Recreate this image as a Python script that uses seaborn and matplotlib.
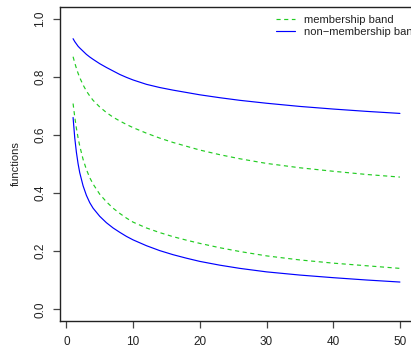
import matplotlib
matplotlib.use("Agg")
import matplotlib.pyplot as plt
import seaborn as sns
import pandas as pd

# data
x = [1, 1.25, 1.5, 1.75, 2, 2.5, 3, 3.5, 4, 5, 6, 7, 8, 9, 10, 12, 14, 16, 18,
     20, 23, 26, 30, 35, 40, 45, 50]
mem_upper = [0.869, 0.848, 0.829, 0.812, 0.797, 0.772, 0.751, 0.734, 0.719, 0.696,
             0.677, 0.661, 0.648, 0.636, 0.625, 0.606, 0.589, 0.574, 0.561,
             0.548, 0.532, 0.518, 0.502, 0.487, 0.475, 0.464, 0.455]
mem_lower = [0.708, 0.662, 0.623, 0.590, 0.562, 0.516, 0.481, 0.453, 0.431, 0.396,
             0.370, 0.348, 0.330, 0.314, 0.300, 0.280, 0.264, 0.250, 0.238,
             0.227, 0.212, 0.199, 0.184, 0.170, 0.159, 0.150, 0.141]
non_upper = [0.931, 0.921, 0.913, 0.905, 0.899, 0.888, 0.877, 0.868, 0.860, 0.845,
             0.832, 0.820, 0.808, 0.798, 0.789, 0.774, 0.763, 0.754, 0.746,
             0.738, 0.728, 0.719, 0.709, 0.698, 0.689, 0.681, 0.674]
non_lower = [0.660, 0.590, 0.540, 0.501, 0.470, 0.425, 0.392, 0.367, 0.348, 0.320,
             0.298, 0.280, 0.265, 0.251, 0.239, 0.219, 0.202, 0.188, 0.176,
             0.165, 0.152, 0.141, 0.129, 0.118, 0.109, 0.101, 0.094]
labels = ["membership band", "non\u2212membership band"]
xticks = [0, 10, 20, 30, 40, 50]
yticks = [0.0, 0.2, 0.4, 0.6, 0.8, 1.0]

sns.set_style("white")
plt.rcParams['font.family'] = ['Liberation Sans', 'DejaVu Sans']

GREEN = '#22cc22'
BLUE = '#0000ff'
DASH = (3.5, 3)

fig = plt.figure(figsize=(4.11, 3.5), dpi=100)
ax = fig.add_axes([60 / 411, 29 / 350, 353 / 411, 314 / 350])

df = pd.DataFrame({"x": x, "mu": mem_upper, "ml": mem_lower,
                   "nu": non_upper, "nl": non_lower})

sns.lineplot(data=df, x="x", y="mu", ax=ax, color=GREEN, lw=0.85,
             label=labels[0]).lines[-1].set_dashes(DASH)
sns.lineplot(data=df, x="x", y="ml", ax=ax, color=GREEN, lw=0.85).lines[-1].set_dashes(DASH)
sns.lineplot(data=df, x="x", y="nu", ax=ax, color=BLUE, lw=0.85, label=labels[1])
sns.lineplot(data=df, x="x", y="nl", ax=ax, color=BLUE, lw=0.85)

ax.set_xlim(-0.96, 51.96)
ax.set_ylim(-0.04, 1.04)
ax.set_xticks(xticks)
ax.set_xticklabels([str(t) for t in xticks])
ax.set_yticks(yticks)
ax.set_yticklabels([f"{t:.1f}" for t in yticks], rotation=90, va='center')
ax.set_xlabel("")
ax.set_ylabel("functions", fontsize=8, color='#222222', labelpad=10)

for s in ax.spines.values():
    s.set_visible(True)
    s.set_color('#222222')
    s.set_linewidth(1.0)

ax.tick_params(axis='both', which='major', direction='out', length=4.8,
               width=0.9, color='#444444', labelsize=8.5, labelcolor='#222222',
               bottom=True, left=True, pad=5)
ax.tick_params(axis='x', pad=6)

leg = ax.legend(loc='upper left', bbox_to_anchor=(276 / 411, 1 - 15 / 350),
                bbox_transform=fig.transFigure, frameon=False, fontsize=8,
                handlelength=1.7, handletextpad=0.8, labelspacing=0.15,
                borderpad=0, borderaxespad=0)
for t in leg.get_texts():
    t.set_color('#222222')
leg.get_lines()[0].set_dashes(DASH)

fig.savefig("out.png", dpi=100)
